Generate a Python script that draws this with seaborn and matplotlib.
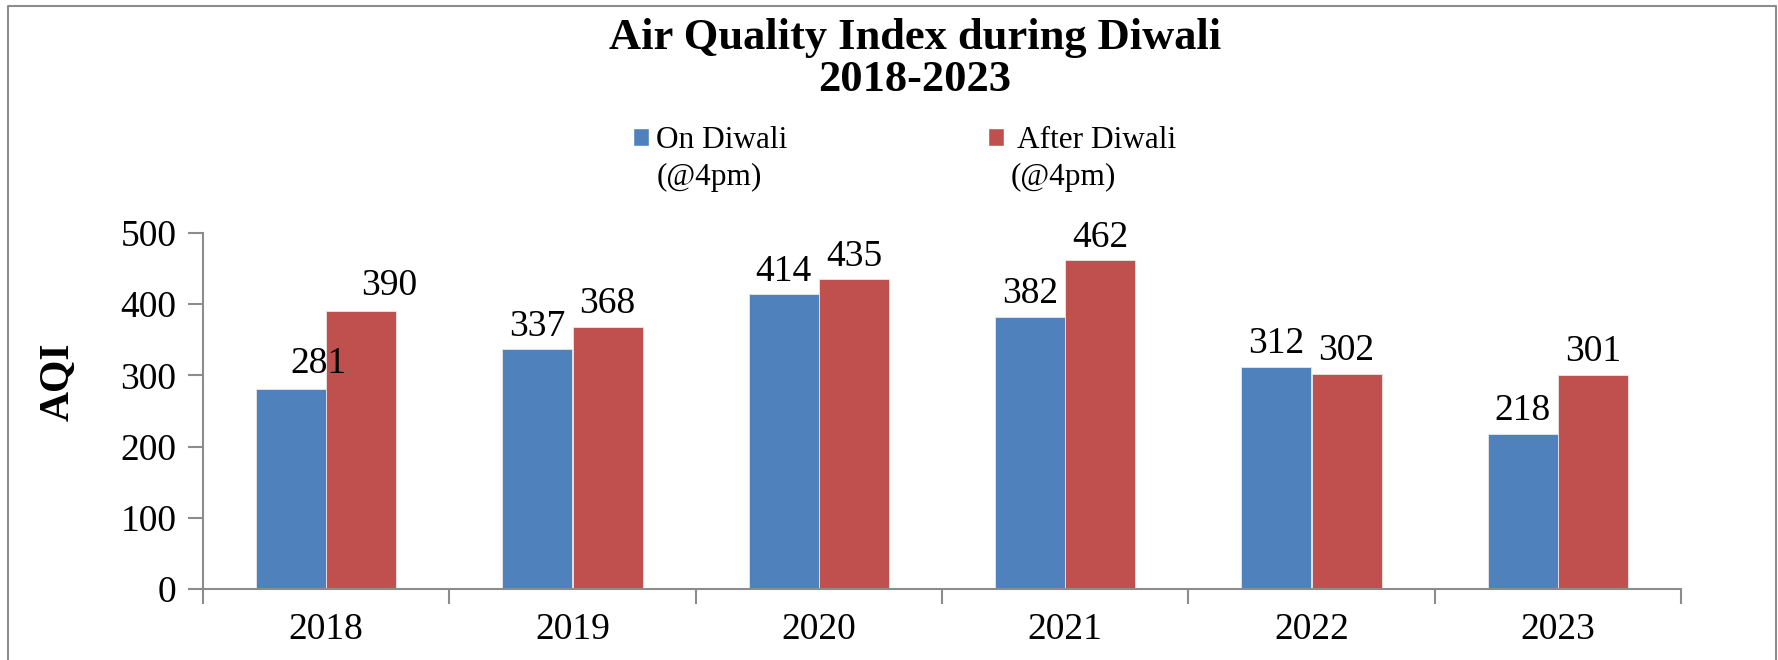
import pandas as pd
import matplotlib.pyplot as plt
import seaborn as sns
from matplotlib.lines import Line2D
from matplotlib.patches import Patch

# Data
years = ['2018', '2019', '2020', '2021', '2022', '2023']
on_diwali = [281, 337, 414, 382, 312, 218]
after_diwali = [390, 368, 435, 462, 302, 301]
series = ['On Diwali', 'After Diwali']
colors = ['#4F81BD', '#C0504D']

df = pd.DataFrame({
    'Year': years * 2,
    'AQI': on_diwali + after_diwali,
    'Series': [series[0]] * len(years) + [series[1]] * len(years),
})

sns.set_style('white')
plt.rcParams['font.family'] = ['Liberation Serif', 'DejaVu Serif']
plt.rcParams['text.color'] = 'black'
plt.rcParams['axes.labelcolor'] = 'black'
plt.rcParams['xtick.color'] = 'black'
plt.rcParams['ytick.color'] = 'black'

fig = plt.figure(figsize=(17.78, 6.6), dpi=100)
ax = fig.add_axes([203 / 1778, 1 - 589 / 660, (1681 - 203) / 1778, (589 - 233) / 660])

sns.barplot(data=df, x='Year', y='AQI', hue='Series', ax=ax,
            palette=colors, width=0.57, gap=0,
            edgecolor='#e8e8e8', linewidth=0.6, saturation=1, legend=False)

for c in ax.containers:
    labels = ax.bar_label(c, fmt='%d', fontsize=27, padding=4)
    # the 2018 labels sit a little to the right in the original
    labels[0].xyann = (20, 6)

ax.set_ylim(0, 500)
ax.set_yticks(range(0, 501, 100))
ax.set_xlim(-0.5, 5.5)
ax.set_xlabel('')
ax.set_ylabel('AQI', fontsize=30, fontweight='bold')
ax.yaxis.set_label_coords(-0.085, 0.582)

# ticks: labels at centres, tick marks at category boundaries
ax.set_xticks([i - 0.5 for i in range(7)], minor=True)
ax.tick_params(axis='x', which='major', length=0, labelsize=27, pad=17)
ax.tick_params(axis='x', which='minor', length=11, width=1.5, color='#8c8c8c', direction='out')
ax.tick_params(axis='y', length=11, width=1.5, color='#8c8c8c', direction='out', labelsize=27, pad=8)
ax.yaxis.set_tick_params(left=True)
ax.xaxis.set_tick_params(which='minor', bottom=True)

for s in ['top', 'right']:
    ax.spines[s].set_visible(False)
for s in ['left', 'bottom']:
    ax.spines[s].set_color('#8c8c8c')
    ax.spines[s].set_linewidth(1.5)

# legend at the top, second line of each label as its own blank-handle row
blank = Patch(facecolor='none', edgecolor='none')
handles = [Patch(facecolor=colors[0]), blank, Patch(facecolor=colors[1]), blank]
labels = [series[0], '(@4pm)', ' ' + series[1], '(@4pm)']
fig.legend(handles, labels, loc='upper left', bbox_to_anchor=(633 / 1778, 1 - 126 / 660),
           ncol=2, frameon=False, fontsize=22.5, borderpad=0, borderaxespad=0,
           handlelength=0.52, handleheight=0.52, handletextpad=0.23,
           columnspacing=6.4, labelspacing=0.25)

fig.text(915 / 1778, 1 - 18 / 660, 'Air Quality Index during Diwali\n2018-2023',
         ha='center', va='top', fontsize=32, fontweight='bold', linespacing=1.05)

# outer frame (left, top, right)
fig.add_artist(Line2D([8 / 1778, 8 / 1778, 1776 / 1778, 1776 / 1778],
                      [-0.01, 1 - 6 / 660, 1 - 6 / 660, -0.01],
                      transform=fig.transFigure, color='#8c8c8c', linewidth=1.5))

fig.savefig('out.png', dpi=100)
